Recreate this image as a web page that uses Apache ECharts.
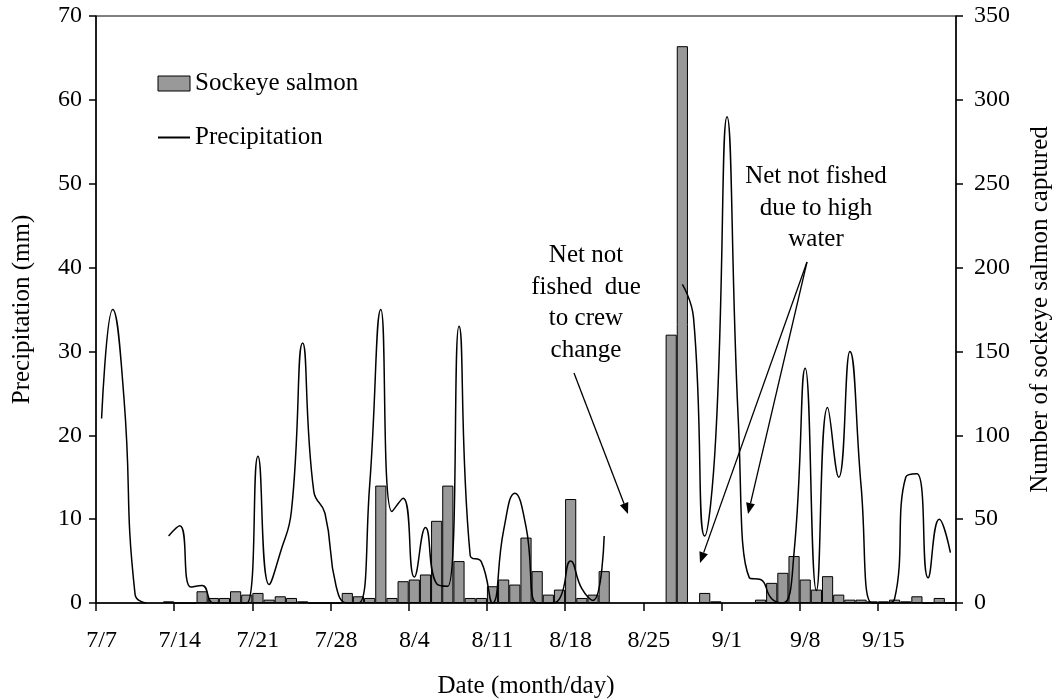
<!DOCTYPE html>
<html>
<head>
<meta charset="utf-8">
<title>Sockeye salmon captured and precipitation</title>
<script src="https://cdn.jsdelivr.net/npm/echarts@6/dist/echarts.min.js"></script>
<style>
  html, body { margin: 0; padding: 0; background: #fff; }
  #main { width: 1061px; height: 700px; }
</style>
</head>
<body>
<div id="main"></div>
<script>
// one entry per day, 7/7 .. 9/21
const days = [
  '7/7', '7/8', '7/9', '7/10', '7/11', '7/12', '7/13',
  '7/14', '7/15', '7/16', '7/17', '7/18', '7/19', '7/20',
  '7/21', '7/22', '7/23', '7/24', '7/25', '7/26', '7/27',
  '7/28', '7/29', '7/30', '7/31', '8/1', '8/2', '8/3',
  '8/4', '8/5', '8/6', '8/7', '8/8', '8/9', '8/10',
  '8/11', '8/12', '8/13', '8/14', '8/15', '8/16', '8/17',
  '8/18', '8/19', '8/20', '8/21', '8/22', '8/23', '8/24',
  '8/25', '8/26', '8/27', '8/28', '8/29', '8/30', '8/31',
  '9/1', '9/2', '9/3', '9/4', '9/5', '9/6', '9/7',
  '9/8', '9/9', '9/10', '9/11', '9/12', '9/13', '9/14',
  '9/15', '9/16', '9/17', '9/18', '9/19', '9/20', '9/21'
];

// precipitation (mm), null = no record
const precip = [
  22, 35, 24.5, 1, 0, null, 8,
  9.2, 1.9, 2.1, 0, 0, 0, 0,
  17.5, 2.2, 6, 11, 31, 13.3, 10.7,
  2, 0, 0, 14, 35, 10.9, 12.5,
  3.1, 9, 2.3, 2, 33, 5.7, 4.9,
  0, 8.7, 13.1, 9.1, 0, 0, 0.5,
  5, 1.7, 0.3, 8, null, null, null,
  null, null, null, 38, 34, 8, 20,
  58, 22, 3, 2.8, 0.5, 0, 6,
  28, 1.5, 23.3, 15, 30, 14, 0,
  0, 0.5, 15, 15.4, 3, 10, 6
];

// sockeye salmon captured, null = net not fished
const salmon = [
  null, null, null, null, null, null, 1,
  0, 0, 7, 3, 3, 7, 5,
  6, 2, 4, 3, 1, 0, 0,
  0, 6, 4, 3, 70, 3, 13,
  14, 17, 49, 70, 25, 3, 3,
  10, 14, 11, 39, 19, 5, 8,
  62, 3, 5, 19, null, null, null,
  null, null, 160, 332, null, 6, 1,
  null, null, null, 2, 12, 18, 28,
  14, 8, 16, 5, 2, 2, 1,
  1, 2, 1, 4, 0, 3, 0
];

const FONT = '"Liberation Serif", "Times New Roman", serif';

function arrow(x1, y1, x2, y2) {
  const len = 11, half = 4.5;
  const d = Math.hypot(x2 - x1, y2 - y1);
  const ux = (x2 - x1) / d, uy = (y2 - y1) / d;
  const bx = x2 - ux * len, by = y2 - uy * len;
  return [
    { type: 'line', shape: { x1: x1, y1: y1, x2: bx, y2: by }, style: { stroke: '#000', lineWidth: 1.3 } },
    { type: 'polygon', shape: { points: [[x2, y2], [bx - uy * half, by + ux * half], [bx + uy * half, by - ux * half]] }, style: { fill: '#000' } }
  ];
}

function note(text, x, y) {
  return {
    type: 'text',
    style: {
      text: text, x: x, y: y,
      align: 'center', verticalAlign: 'middle',
      textAlign: 'center', textVerticalAlign: 'middle',
      font: '25px ' + FONT, lineHeight: 31.5, fill: '#000'
    }
  };
}

const axisText = { fontSize: 24, color: '#000', fontFamily: FONT };
const nameText = { fontSize: 25, color: '#000', fontFamily: FONT };
const blackLine = { color: '#000', width: 1.5 };

const chart = echarts.init(document.getElementById('main'));
chart.setOption({
  animation: false,
  textStyle: { fontFamily: FONT, color: '#000' },
  grid: {
    left: 96, right: 105, top: 16, bottom: 97,
    show: true, borderColor: '#000', borderWidth: 1,
    containLabel: false, outerBoundsMode: 'none'
  },
  legend: {
    orient: 'vertical', left: 157, top: 71, padding: 0,
    itemWidth: 32, itemHeight: 15, itemGap: 29,
    textStyle: { fontSize: 25, color: '#000', fontFamily: FONT, lineHeight: 25 },
    data: [
      { name: 'Sockeye salmon', icon: 'rect', itemStyle: { color: '#999999', borderColor: '#000', borderWidth: 1 } },
      { name: 'Precipitation', itemStyle: { opacity: 0 } }
    ]
  },
  xAxis: {
    type: 'category', data: days, boundaryGap: true,
    name: 'Date (month/day)', nameLocation: 'middle', nameGap: 71, nameTextStyle: nameText,
    axisLine: { show: true, lineStyle: blackLine },
    axisTick: { show: true, interval: 6, length: 8, alignWithLabel: false, lineStyle: blackLine },
    axisLabel: Object.assign({ interval: 6, margin: 26 }, axisText),
    splitLine: { show: false }
  },
  yAxis: [
    {
      type: 'value', position: 'left', min: 0, max: 70, interval: 10,
      name: 'Precipitation (mm)', nameLocation: 'middle', nameGap: 61, nameTextStyle: nameText,
      axisLine: { show: true, lineStyle: blackLine },
      axisTick: { show: true, length: 7, lineStyle: blackLine },
      axisLabel: Object.assign({ margin: 14 }, axisText),
      splitLine: { show: false }
    },
    {
      type: 'value', position: 'right', min: 0, max: 350, interval: 50,
      name: 'Number of sockeye salmon captured', nameLocation: 'middle', nameGap: 72, nameTextStyle: nameText,
      axisLine: { show: true, lineStyle: blackLine },
      axisTick: { show: true, length: 7, lineStyle: blackLine },
      axisLabel: Object.assign({ margin: 18 }, axisText),
      splitLine: { show: false }
    }
  ],
  series: [
    {
      name: 'Sockeye salmon', type: 'bar', yAxisIndex: 1, data: salmon,
      barCategoryGap: '0%',
      itemStyle: { color: '#999999', borderColor: '#000', borderWidth: 1 }
    },
    {
      name: 'Precipitation', type: 'line', yAxisIndex: 0, data: precip,
      smooth: 0.5, symbol: 'none', connectNulls: false, z: 3,
      lineStyle: { color: '#000', width: 1.5 },
      itemStyle: { color: '#000' }
    }
  ],
  graphic: [
    note('Net not\nfished  due\nto crew\nchange', 586, 303),
    note('Net not fished\ndue to high\nwater', 816, 208)
  ]
    .concat(arrow(574, 373, 628, 514))
    .concat(arrow(807, 262, 700, 563))
    .concat(arrow(807, 262, 748, 514))
});
</script>
</body>
</html>
